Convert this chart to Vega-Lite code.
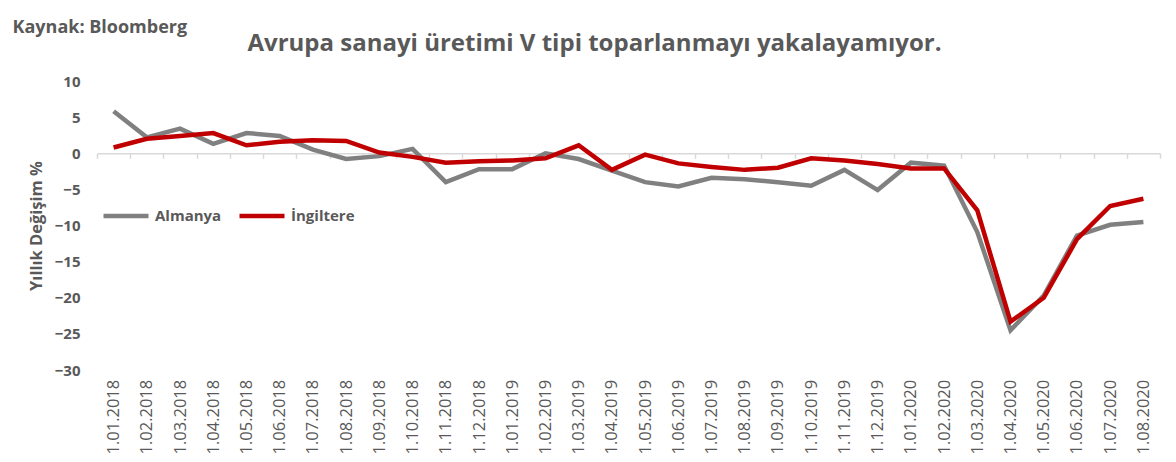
{
  "$schema": "https://vega.github.io/schema/vega-lite/v6.json",
  "width": 1063,
  "height": 289,
  "autosize": {"type": "none"},
  "padding": {"left": 97, "top": 81, "right": 16, "bottom": 92},
  "background": "white",
  "config": {"view": {"stroke": null}, "axis": {"grid": false, "labelFont": "Open Sans", "titleFont": "Open Sans"}, "legend": {"labelFont": "Open Sans"}},
  "data": {"values": [
    {"d": "1.01.2018", "c": "Almanya", "v": 5.8}, {"d": "1.02.2018", "c": "Almanya", "v": 2.2}, {"d": "1.03.2018", "c": "Almanya", "v": 3.4}, {"d": "1.04.2018", "c": "Almanya", "v": 1.3},
    {"d": "1.05.2018", "c": "Almanya", "v": 2.8}, {"d": "1.06.2018", "c": "Almanya", "v": 2.4}, {"d": "1.07.2018", "c": "Almanya", "v": 0.5}, {"d": "1.08.2018", "c": "Almanya", "v": -0.8},
    {"d": "1.09.2018", "c": "Almanya", "v": -0.4}, {"d": "1.10.2018", "c": "Almanya", "v": 0.6}, {"d": "1.11.2018", "c": "Almanya", "v": -4.0}, {"d": "1.12.2018", "c": "Almanya", "v": -2.2},
    {"d": "1.01.2019", "c": "Almanya", "v": -2.2}, {"d": "1.02.2019", "c": "Almanya", "v": 0.0}, {"d": "1.03.2019", "c": "Almanya", "v": -0.8}, {"d": "1.04.2019", "c": "Almanya", "v": -2.4},
    {"d": "1.05.2019", "c": "Almanya", "v": -4.0}, {"d": "1.06.2019", "c": "Almanya", "v": -4.6}, {"d": "1.07.2019", "c": "Almanya", "v": -3.4}, {"d": "1.08.2019", "c": "Almanya", "v": -3.6},
    {"d": "1.09.2019", "c": "Almanya", "v": -4.0}, {"d": "1.10.2019", "c": "Almanya", "v": -4.5}, {"d": "1.11.2019", "c": "Almanya", "v": -2.3}, {"d": "1.12.2019", "c": "Almanya", "v": -5.1},
    {"d": "1.01.2020", "c": "Almanya", "v": -1.3}, {"d": "1.02.2020", "c": "Almanya", "v": -1.7}, {"d": "1.03.2020", "c": "Almanya", "v": -10.9}, {"d": "1.04.2020", "c": "Almanya", "v": -24.5},
    {"d": "1.05.2020", "c": "Almanya", "v": -19.7}, {"d": "1.06.2020", "c": "Almanya", "v": -11.4}, {"d": "1.07.2020", "c": "Almanya", "v": -9.9}, {"d": "1.08.2020", "c": "Almanya", "v": -9.5},
    {"d": "1.01.2018", "c": "İngiltere", "v": 0.8}, {"d": "1.02.2018", "c": "İngiltere", "v": 2.0}, {"d": "1.03.2018", "c": "İngiltere", "v": 2.4}, {"d": "1.04.2018", "c": "İngiltere", "v": 2.8},
    {"d": "1.05.2018", "c": "İngiltere", "v": 1.1}, {"d": "1.06.2018", "c": "İngiltere", "v": 1.6}, {"d": "1.07.2018", "c": "İngiltere", "v": 1.8}, {"d": "1.08.2018", "c": "İngiltere", "v": 1.7},
    {"d": "1.09.2018", "c": "İngiltere", "v": 0.1}, {"d": "1.10.2018", "c": "İngiltere", "v": -0.5}, {"d": "1.11.2018", "c": "İngiltere", "v": -1.3}, {"d": "1.12.2018", "c": "İngiltere", "v": -1.1},
    {"d": "1.01.2019", "c": "İngiltere", "v": -1.0}, {"d": "1.02.2019", "c": "İngiltere", "v": -0.7}, {"d": "1.03.2019", "c": "İngiltere", "v": 1.1}, {"d": "1.04.2019", "c": "İngiltere", "v": -2.3},
    {"d": "1.05.2019", "c": "İngiltere", "v": -0.2}, {"d": "1.06.2019", "c": "İngiltere", "v": -1.4}, {"d": "1.07.2019", "c": "İngiltere", "v": -1.9}, {"d": "1.08.2019", "c": "İngiltere", "v": -2.3},
    {"d": "1.09.2019", "c": "İngiltere", "v": -2.0}, {"d": "1.10.2019", "c": "İngiltere", "v": -0.7}, {"d": "1.11.2019", "c": "İngiltere", "v": -1.0}, {"d": "1.12.2019", "c": "İngiltere", "v": -1.5},
    {"d": "1.01.2020", "c": "İngiltere", "v": -2.1}, {"d": "1.02.2020", "c": "İngiltere", "v": -2.1}, {"d": "1.03.2020", "c": "İngiltere", "v": -7.9}, {"d": "1.04.2020", "c": "İngiltere", "v": -23.3},
    {"d": "1.05.2020", "c": "İngiltere", "v": -20.0}, {"d": "1.06.2020", "c": "İngiltere", "v": -11.9}, {"d": "1.07.2020", "c": "İngiltere", "v": -7.3}, {"d": "1.08.2020", "c": "İngiltere", "v": -6.3}
  ]},
  "resolve": {"axis": {"x": "independent", "y": "independent"}},
  "layer": [
    {
      "transform": [{"filter": "datum.c == 'Almanya'"}],
      "mark": {"type": "line", "strokeWidth": 4.5, "strokeJoin": "miter"},
      "encoding": {
        "x": {"field": "d", "type": "ordinal", "sort": null, "bandPosition": 0.5,
          "scale": {"type": "band", "paddingInner": 0, "paddingOuter": 0},
          "axis": {"orient": "bottom", "offset": -216.75, "title": null, "domainColor": "#d9d9d9", "domainWidth": 1.5,
            "tickColor": "#d9d9d9", "tickWidth": 1.5, "tickSize": 5, "tickBand": "extent",
            "labelAngle": -90, "labelPadding": 221, "labelFontSize": 16.5, "labelColor": "#595959"}},
        "y": {"field": "v", "type": "quantitative",
          "scale": {"domain": [-30, 10], "nice": false, "zero": false},
          "axis": {"values": [-30, -25, -20, -15, -10, -5, 0, 5, 10], "domain": false, "ticks": false, "tickSize": 0,
            "labelPadding": 17, "labelFontSize": 15, "labelFontWeight": "bold", "labelColor": "#595959",
            "title": "Yıllık Değişim %", "titleFontSize": 16.5, "titleFontWeight": "bold", "titleColor": "#595959",
            "titleX": -61, "titleY": 144.5, "titleBaseline": "middle", "titleAlign": "center", "titleAngle": -90}},
        "color": {"field": "c", "type": "nominal",
          "scale": {"domain": ["Almanya", "İngiltere"], "range": ["#808080", "#c00000"]},
          "legend": {"orient": "none", "legendX": 4, "legendY": 110, "direction": "horizontal", "title": null,
            "symbolType": "stroke", "symbolStrokeWidth": 4.5, "symbolSize": 2025, "labelFontSize": 15, "labelFontWeight": "bold",
            "labelColor": "#595959", "columnPadding": 8, "labelOffset": 4}}
      }
    },
    {
      "transform": [{"filter": "datum.c == 'İngiltere'"}],
      "mark": {"type": "line", "strokeWidth": 4.5, "strokeJoin": "miter"},
      "encoding": {
        "x": {"field": "d", "type": "ordinal", "sort": null, "bandPosition": 0.5,
          "axis": {"orient": "top", "labels": false, "ticks": false, "domain": false,
            "title": "Avrupa sanayi üretimi V tipi toparlanmayı yakalayamıyor.", "titleFontSize": 24, "titleFontWeight": "bold",
            "titleColor": "#595959", "titleX": 497, "titleY": -31, "titleAlign": "center", "titleBaseline": "alphabetic", "titleAnchor": null}},
        "y": {"field": "v", "type": "quantitative",
          "axis": {"orient": "right", "labels": false, "ticks": false, "domain": false,
            "title": "Kaynak: Bloomberg", "titleFontSize": 18, "titleFontWeight": "bold", "titleColor": "#595959",
            "titleX": -1148, "titleY": -49, "titleAngle": 0, "titleAlign": "left", "titleBaseline": "alphabetic"}},
        "color": {"field": "c", "type": "nominal"}
      }
    }
  ]
}
